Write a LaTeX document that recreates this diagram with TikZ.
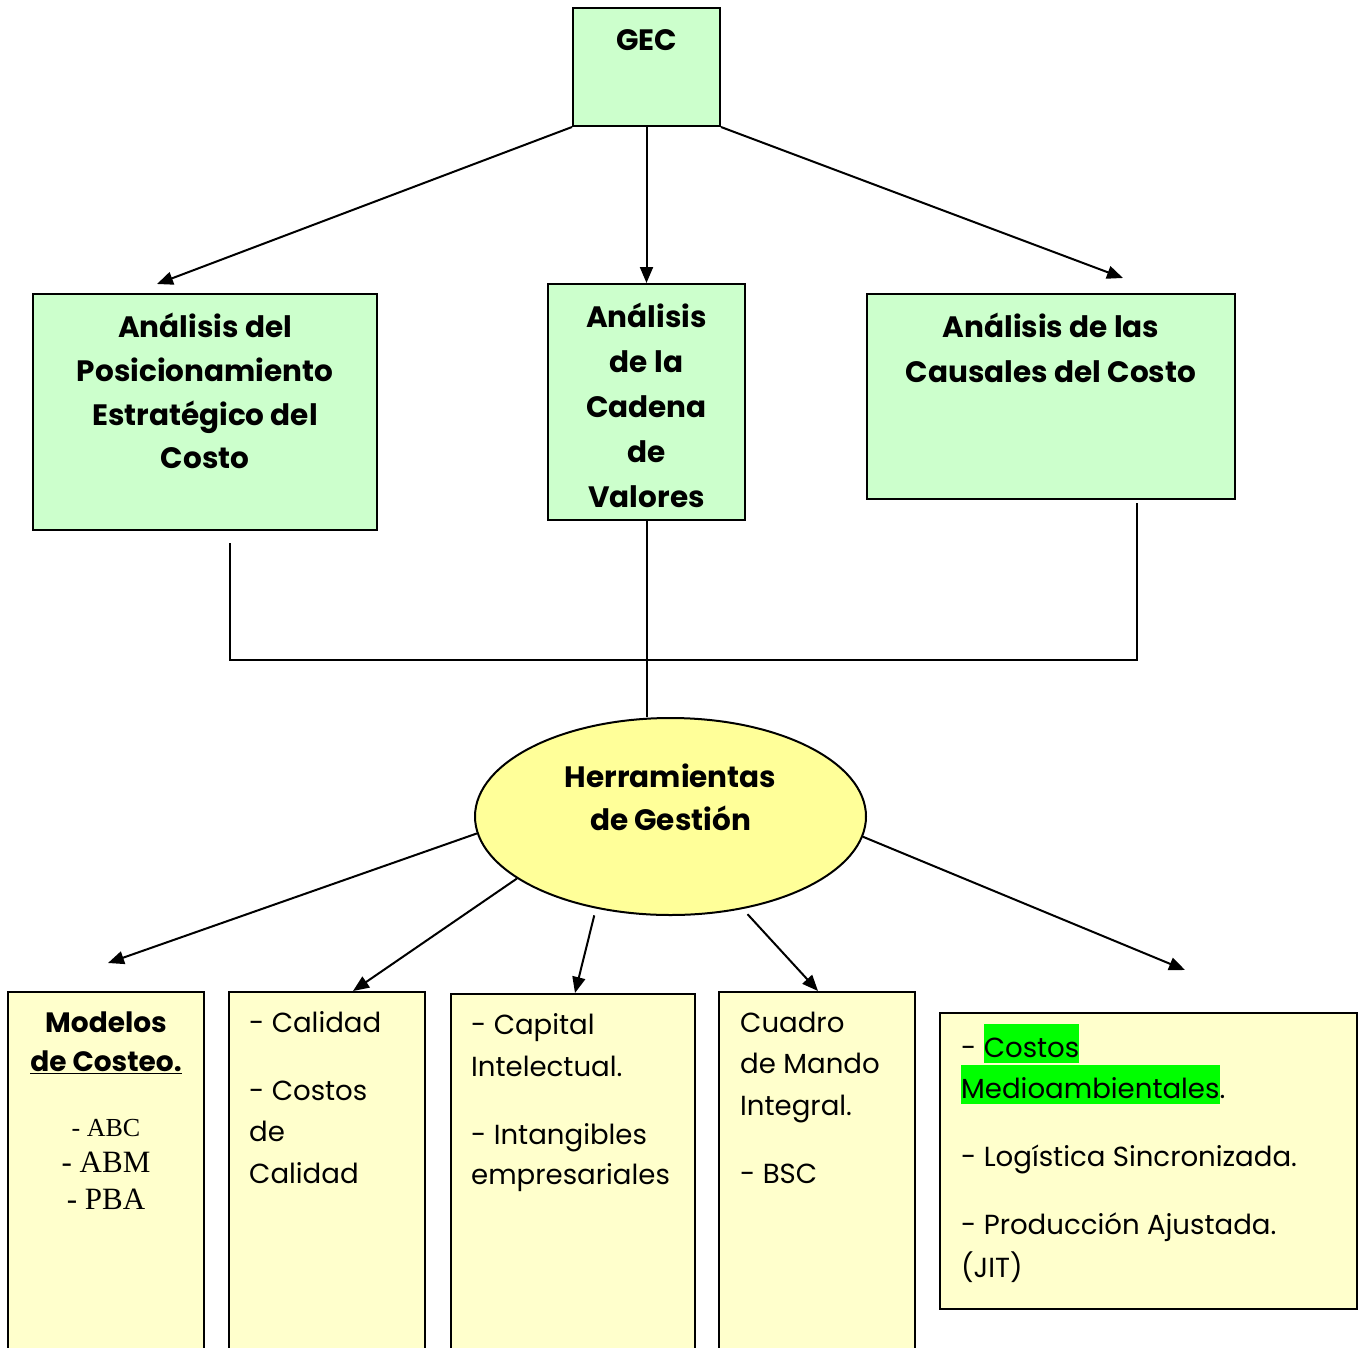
\documentclass[tikz,border=0pt]{standalone}
\usepackage{fontspec}
\setmainfont{Poppins}
\newfontfamily\tnrfont{Liberation Serif}
\usetikzlibrary{arrows.meta,shapes.geometric}
\definecolor{boxgreen}{HTML}{CCFFCC}
\definecolor{boxyellow}{HTML}{FFFFCC}
\definecolor{ellyellow}{HTML}{FFFF99}
\definecolor{hlgreen}{HTML}{00FF00}
\newcommand\hlg[1]{{\setlength\fboxsep{0pt}\colorbox{hlgreen}{\rule[-6pt]{0pt}{39pt}#1}}}
\tikzset{
  gbox/.style={draw=black, fill=boxgreen, line width=2pt, rectangle, inner sep=0pt},
  ybox/.style={draw=black, fill=boxyellow, line width=2pt, rectangle, inner sep=0pt},
  hd/.style={inner sep=0pt, anchor=base, font=\bfseries\fontsize{29.5}{36}\selectfont},
  hdsmall/.style={inner sep=0pt, anchor=base, font=\bfseries\fontsize{28}{34}\selectfont},
  tx/.style={inner sep=0pt, anchor=base west, font=\fontsize{27.6}{34}\selectfont},
  arr/.style={-{Triangle[length=16pt,width=13pt]}, line width=2pt},
  ln/.style={line width=2pt},
}
\begin{document}
\begin{tikzpicture}[x=1pt,y=-1pt]
\useasboundingbox (0,0) rectangle (1363,1347);

% top boxes
\node[gbox, minimum width=147, minimum height=118] (gec) at (646.5,67) {};
\node[gbox, minimum width=344, minimum height=236] (b1) at (205,412) {};
\node[gbox, minimum width=197, minimum height=236] (b2) at (646.5,402) {};
\node[gbox, minimum width=368, minimum height=205] (b3) at (1051,396.5) {};

\node[hd] (tgec) at (646.5,50) {GEC};

\node[hd] (t11) at (205,337) {Análisis del};
\node[hd] (t12) at (205,381) {Posicionamiento};
\node[hd] (t13) at (205,425) {Estratégico del};
\node[hd] (t14) at (205,468.5) {Costo};

\node[hd] (t21) at (646.5,327) {Análisis};
\node[hd] (t22) at (646.5,372) {de la};
\node[hd] (t23) at (646.5,417) {Cadena};
\node[hd] (t24) at (646.5,462) {de};
\node[hd] (t25) at (646.5,507) {Valores};

\node[hd] (t31) at (1051,337) {Análisis de las};
\node[hd] (t32) at (1051,382) {Causales del Costo};

% arrows from GEC
\coordinate (e01) at (157,284);
\coordinate (e03) at (1123,278);
\draw[arr] (gec.south west) -- (e01);
\draw[arr] (gec.south) -- (b2.north);
\draw[arr] (gec.south east) -- (e03);

% ellipse
\node[draw=black, fill=ellyellow, line width=2pt, ellipse, inner sep=0pt,
      minimum width=391, minimum height=197] (ell) at (670.5,816.5) {};
\node[hd] (te1) at (670.5,787) {Herramientas};
\node[hd] (te2) at (670.5,830) {de Gestión};

% joining lines
\coordinate (j1) at (230,543);
\coordinate (j1b) at (230,660);
\coordinate (j3) at (1137,503);
\coordinate (j3b) at (1137,660);
\draw[ln] (j1) -- (j1b) -- (j3b) -- (j3);
\draw[ln] (b2.south) -- (b2.south |- ell.north);

% bottom boxes
\node[ybox, minimum width=196, minimum height=420] (ba) at (106,1202) {};
\node[ybox, minimum width=196, minimum height=420] (bb) at (327,1202) {};
\node[ybox, minimum width=244, minimum height=420] (bc) at (573,1204) {};
\node[ybox, minimum width=196, minimum height=420] (bd) at (817,1202) {};
\node[ybox, minimum width=417, minimum height=296] (be) at (1148.5,1161) {};

% arrows from ellipse
\coordinate (e1) at (108,963);
\coordinate (e2) at (353,991);
\coordinate (e3) at (575,993);
\coordinate (e4) at (818,991);
\coordinate (e5) at (1185,970);
\draw[arr] (ell.185.7) -- (e1);
\draw[arr] (ell.202) -- (e2);
\draw[arr, shorten <=7pt] (ell.231.2) -- (e3);
\draw[arr, shorten <=7pt] (ell.308.8) -- (e4);
\draw[arr] (ell.354.3) -- (e5);

% box a
\node[hdsmall] (ta1) at (106,1032) {Modelos};
\node[hdsmall] (ta2) at (106,1071.5) {\underline{de Costeo.}};
\node[inner sep=0pt, anchor=base, font=\tnrfont\fontsize{26}{30}\selectfont] (ta3) at (106,1136) {- ABC};
\node[inner sep=0pt, anchor=base, font=\tnrfont\fontsize{31}{36}\selectfont] (ta4) at (106,1172) {- ABM};
\node[inner sep=0pt, anchor=base, font=\tnrfont\fontsize{31}{36}\selectfont] (ta5) at (106,1209) {- PBA};

% box b
\node[tx] (tb1) at (249,1032) {- Calidad};
\node[tx] (tb2) at (249,1100) {- Costos};
\node[tx] (tb3) at (249,1141) {de};
\node[tx] (tb4) at (249,1183) {Calidad};

% box c
\node[tx] (tc1) at (471,1034) {- Capital};
\node[tx] (tc2) at (471,1076) {Intelectual.};
\node[tx] (tc3) at (471,1144) {- Intangibles};
\node[tx] (tc4) at (471,1184) {empresariales};

% box d
\node[tx] (td1) at (740,1032) {Cuadro};
\node[tx] (td2) at (740,1073) {de Mando};
\node[tx] (td3) at (740,1115) {Integral.};
\node[tx] (td4) at (740,1183) {- BSC};

% box e
\node[tx] (tf1) at (961,1057) {- \hlg{Costos}};
\node[tx] (tf2) at (961,1098) {\hlg{Medioambientales}.};
\node[tx] (tf3) at (961,1166) {- Logística Sincronizada.};
\node[tx] (tf4) at (961,1234) {- Producción Ajustada.};
\node[tx] (tf5) at (961,1277) {(JIT)};
\end{tikzpicture}
\end{document}
